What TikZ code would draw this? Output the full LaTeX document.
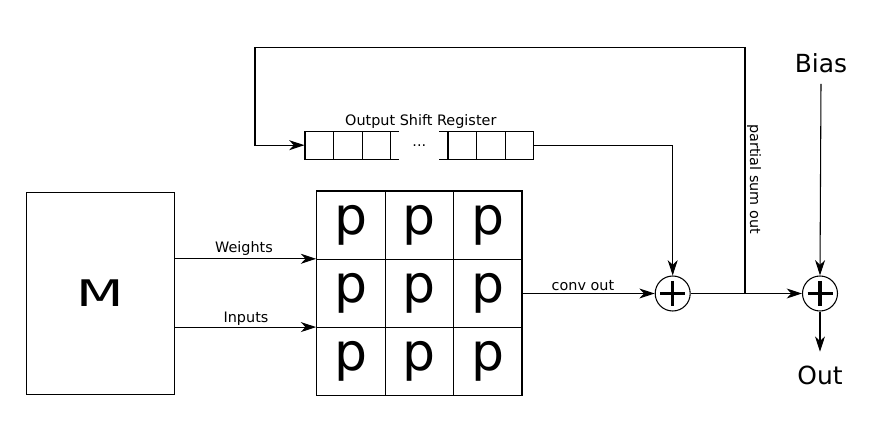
\documentclass[tikz,border=0pt]{standalone}
\usepackage{fontspec}
\setmainfont{DejaVu Sans}
\usetikzlibrary{arrows.meta}
\begin{document}
\begin{tikzpicture}[x=0.75pt,y=-0.75pt,
  every path/.style={line width=0.8pt},
  mbox/.style={draw, line width=0.8pt, inner sep=0, minimum width=147.6*0.75pt, minimum height=201.6*0.75pt, font=\fontsize{27.5}{28}\selectfont},
  cell/.style={draw, line width=0.8pt, inner sep=0, minimum width=68.43*0.75pt, minimum height=68.33*0.75pt, font=\fontsize{39}{39}\selectfont},
  reg/.style={draw, line width=0.8pt, inner sep=0, minimum width=28.6*0.75pt, minimum height=28.3*0.75pt},
  gapbox/.style={fill=white, inner sep=0, minimum width=40*0.75pt, minimum height=32*0.75pt, font=\fontsize{10.8}{12}\selectfont},
  adder/.style={circle, draw, line width=0.8pt, minimum size=35*0.75pt, inner sep=0},
  lbl/.style={font=\fontsize{10.8}{12}\selectfont, inner sep=0},
  big/.style={font=\fontsize{18.7}{20}\selectfont, inner xsep=0},
  arr/.style={-{Stealth[length=11.5pt,width=7.5pt,inset=3.5pt]}}]
\useasboundingbox (0,0) rectangle (894,445);

% M block
\node[mbox] (M) at (100.5,293.5) {\scalebox{1.5}[1]{M}};

% PE grid
\foreach \r/\y in {1/225.2,2/293.5,3/361.8}{
  \foreach \c/\x in {1/350.9,2/419.3,3/487.8}{
    \node[cell] (p\r\c) at (\x,\y) {p};
  }
}

% Output shift register
\foreach \k in {1,...,8}{
  \node[reg] (r\k) at ({305+14.3+28.6*(\k-1)},145.2) {};
}
\node[gapbox] (dots) at (419.3,145.2) {...};
\node[lbl] (reglbl) at (420.8,122) {Output Shift Register};

% adders
\node[adder] (a1) at (672.7,293.5) {};
\node[adder] (a2) at (820,293.5) {};
\foreach \a in {a1,a2}{
  \draw[line width=2.6pt] (\a.center) ++(-12.5,0) -- ++(25,0);
  \draw[line width=2.6pt] (\a.center) ++(0,-12.5) -- ++(0,25);
}

% Bias and Out
\node[big, inner ysep=8pt] (bias) at (821,63) {Bias};
\node[big, inner ysep=10pt] (out) at (820,375) {Out};

% connectors
\draw[arr] (M.east |- p21.north west) -- (p21.north west);
\draw[arr] (M.east |- p31.north west) -- (p31.north west);
\node[lbl] (wlbl) at (244,248.5) {Weights};
\node[lbl] (ilbl) at (246,319) {Inputs};

\draw[arr] (p23.east) -- (a1.west);
\node[lbl] (clbl) at (583,286) {conv out};

\draw[arr] (r8.east) -| (a1.north);

\coordinate (j) at (745,293.5);
\coordinate (fbR) at (745,47.3);
\coordinate (fbL) at (255,47.3);
\draw[arr] (a1.east) -- (a2.west);
\draw[arr] (j) -- (fbR) -- (fbL) |- (r1.west);
\node[lbl, rotate=-90] (pslbl) at (754,179) {partial sum out};

\draw[arr] (bias.south) -- (a2.north);
\draw[arr] (a2.south) -- (out.north);
\end{tikzpicture}
\end{document}
